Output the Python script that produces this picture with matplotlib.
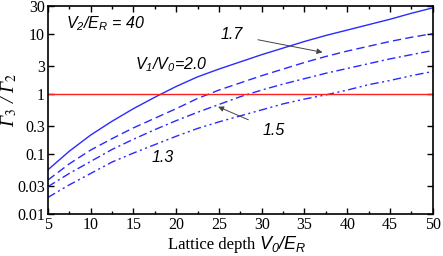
import matplotlib
matplotlib.use('Agg')
import matplotlib.pyplot as plt
from matplotlib.ticker import FixedLocator, NullLocator, MultipleLocator

# Dados (log10 de Gamma3/Gamma2)
V0 = [5, 7.5, 10, 12.5, 15, 17.5, 20, 22.5, 25, 27.5, 30, 32.5, 35, 37.5, 40, 42.5, 45, 47.5, 50]
log_r20 = [-1.26, -0.95, -0.68, -0.45, -0.24, -0.05, 0.13, 0.29, 0.42, 0.54, 0.66, 0.77, 0.88, 0.98, 1.07, 1.16, 1.25, 1.35, 1.44]
log_r17 = [-1.43, -1.16, -0.93, -0.74, -0.56, -0.40, -0.24, -0.07, 0.07, 0.19, 0.31, 0.42, 0.53, 0.63, 0.72, 0.80, 0.88, 0.95, 1.01]
log_r15 = [-1.54, -1.32, -1.12, -0.92, -0.75, -0.59, -0.44, -0.30, -0.17, -0.04, 0.07, 0.17, 0.26, 0.35, 0.43, 0.51, 0.59, 0.66, 0.73]
log_r13 = [-1.72, -1.51, -1.32, -1.13, -0.98, -0.84, -0.70, -0.57, -0.46, -0.36, -0.26, -0.16, -0.08, -0.01, 0.07, 0.16, 0.23, 0.31, 0.38]
yticks = [0.01, 0.03, 0.1, 0.3, 1, 3, 10, 30]
ytick_labels = ['0.01', '0.03', '0.1', '0.3', '1', '3', '10', '30']

plt.rcParams['font.family'] = 'Liberation Serif'
plt.rcParams['mathtext.fontset'] = 'custom'
plt.rcParams['mathtext.it'] = 'Liberation Sans:italic'
plt.rcParams['mathtext.rm'] = 'Liberation Sans:italic'

fig = plt.figure(figsize=(4.43, 2.56), dpi=100)
ax = fig.add_axes([0.108, 0.163, 0.869, 0.815])

azul = '#2a2aff'
estilos = [('-', log_r20), ((0, (6, 3)), log_r17),
           ((0, (6, 2.5, 1.5, 2.5)), log_r15),
           ((0, (6, 2.5, 1.5, 2.5, 1.5, 2.5)), log_r13)]
for ls, vals in estilos:
    ax.plot(V0, [10 ** v for v in vals], linestyle=ls, color=azul, lw=1.0)

ax.axhline(1, color='#ff2020', lw=1.0)

ax.set_yscale('log')
ax.set_xlim(5, 50)
ax.set_ylim(0.01, 30)
ax.yaxis.set_major_locator(FixedLocator(yticks))
ax.yaxis.set_minor_locator(NullLocator())
ax.set_yticklabels(ytick_labels)
ax.xaxis.set_major_locator(MultipleLocator(5))
ax.xaxis.set_minor_locator(MultipleLocator(2.5))
ax.tick_params(which='both', direction='in', top=True, right=True, labelsize=11.5)
ax.tick_params(which='major', length=4, width=1, pad=2)
ax.tick_params(which='minor', length=2.5, width=1)
for s in ax.spines.values():
    s.set_linewidth(1.2)

# Rótulos dos eixos
ax.text(0.540, -0.166, 'Lattice depth', transform=ax.transAxes, ha='right',
        va='baseline', fontsize=12)
ax.text(0.548, -0.166, r'$V_0/E_R$', transform=ax.transAxes, ha='left',
        va='baseline', fontsize=13)
ax.set_ylabel('Γ$_3$ / Γ$_2$', fontsize=14, style='italic', math_fontfamily='stix')
ax.yaxis.set_label_coords(-0.075, 0.55)

sans = dict(family='Liberation Sans', style='italic', fontsize=11.5)
ax.text(11.76, 14.8, r'$V_2/E_R$ = 40', ha='center', va='center', **sans)
ax.text(19.4, 3.08, r'$V_1/V_0$=2.0', ha='center', va='center', **sans)
ax.text(18.45, 0.090, '1.3', ha='center', va='center', **sans)
ax.annotate('1.7', xy=(37.1, 5.0), xytext=(26.5, 9.85), ha='center', va='center',
            arrowprops=dict(arrowstyle='-|>', color='#444444', lw=0.7,
                            mutation_scale=8, shrinkA=9, shrinkB=0), **sans)
ax.annotate('1.5', xy=(24.9, 0.62), xytext=(31.4, 0.247), ha='center', va='center',
            arrowprops=dict(arrowstyle='-|>', color='#444444', lw=0.7,
                            mutation_scale=8, shrinkA=9, shrinkB=0), **sans)

plt.savefig('out.png', dpi=100)
